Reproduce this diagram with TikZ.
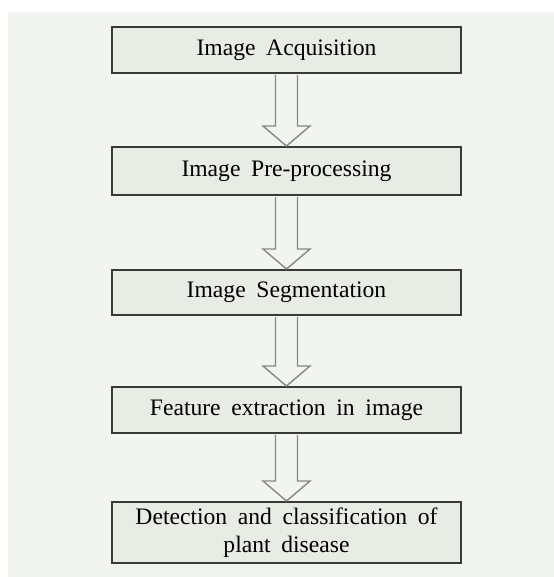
\documentclass[tikz,border=0pt]{standalone}
\usepackage{fontspec}
\setmainfont{Liberation Serif}[WordSpace=1.8]
\usepackage{tikz}
\definecolor{pagebg}{RGB}{242, 245, 239}
\definecolor{stepbg}{RGB}{231, 237, 228}
\definecolor{stepline}{RGB}{55, 58, 55}
\definecolor{arrowline}{RGB}{135, 135, 135}
\usetikzlibrary{calc}

\begin{document}
\begin{tikzpicture}[every node/.style={font=\fontsize{16.8}{19.5}\selectfont},
  stepbox/.style={draw=stepline, line width=1.4pt, fill=stepbg, minimum width=8.725cm, minimum height=1.15cm, inner sep=0pt, align=center},
  flowarrow/.style={draw=arrowline, line width=1pt, fill=pagebg, line join=miter}]
  \useasboundingbox (0,0) rectangle (13.85,-14.425);
  \fill[pagebg] (0.2,-0.3) rectangle (13.85,-14.425);
  \node[stepbox] (acq) at (7.1625,-1.25) {Image Acquisition};
  \node[stepbox, minimum height=1.2cm] (pre) at (7.1625,-4.275) {Image Pre-processing};
  \node[stepbox, minimum height=1.125cm] (seg) at (7.1625,-7.3125) {Image Segmentation};
  \node[stepbox] (feat) at (7.1625,-10.25) {Feature extraction in image};
  \node[stepbox, minimum height=1.525cm] (detect) at (7.1625,-13.3125) {Detection and classification of\\plant disease};
  \foreach \a/\b in {acq/pre, pre/seg, seg/feat, feat/detect} {
    \draw[flowarrow] ($(\a.south)+(-0.275,-0.03)$) -- ($(\b.north)+(-0.275,0.5)$) -- ($(\b.north)+(-0.5875,0.5)$) -- (\b.north) -- ($(\b.north)+(0.5875,0.5)$) -- ($(\b.north)+(0.275,0.5)$) -- ($(\a.south)+(0.275,-0.03)$);
  }
\end{tikzpicture}
\end{document}
